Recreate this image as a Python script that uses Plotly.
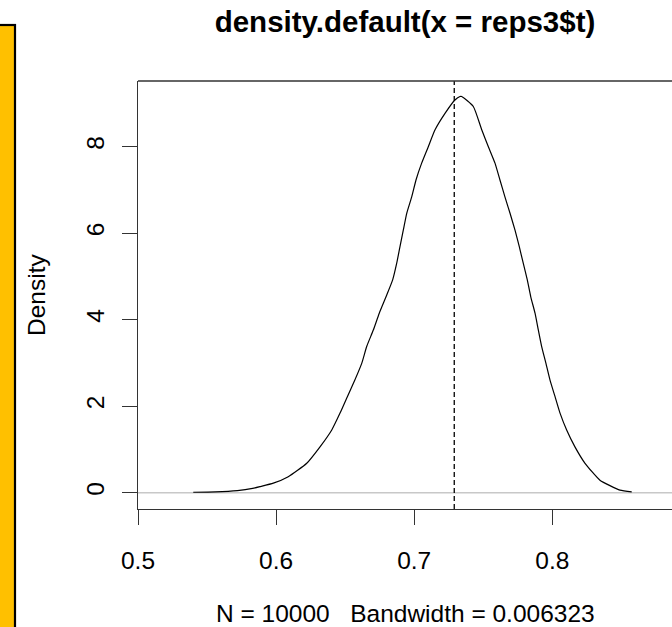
import plotly.graph_objects as go

# Density estimate
dens_x = [0.540, 0.556, 0.572, 0.583, 0.5883, 0.598, 0.6088, 0.6222, 0.6318, 0.6403,
          0.6463, 0.6516, 0.6571, 0.6620, 0.6656, 0.6704, 0.6747, 0.6796, 0.6844, 0.6873,
          0.6897, 0.6921, 0.6946, 0.6982, 0.7013, 0.7054, 0.7102, 0.7151, 0.7223, 0.7295,
          0.7332, 0.7344, 0.7428, 0.7489, 0.7537, 0.7585, 0.7621, 0.7657, 0.7694, 0.7730,
          0.7761, 0.7790, 0.7819, 0.7844, 0.7875, 0.7899, 0.7923, 0.7954, 0.7983, 0.8020,
          0.8056, 0.8104, 0.8164, 0.8237, 0.8345, 0.8490, 0.8575]
dens_y = [0.01, 0.02, 0.05, 0.10, 0.14, 0.22, 0.37, 0.68, 1.06, 1.45,
          1.84, 2.22, 2.61, 2.99, 3.38, 3.76, 4.15, 4.53, 4.92, 5.30,
          5.69, 6.07, 6.46, 6.84, 7.23, 7.62, 8.00, 8.39, 8.77, 9.08,
          9.16, 9.16, 8.93, 8.39, 8.00, 7.62, 7.23, 6.84, 6.46, 6.07,
          5.69, 5.30, 4.92, 4.53, 4.15, 3.76, 3.38, 2.99, 2.61, 2.22,
          1.84, 1.45, 1.06, 0.68, 0.29, 0.06, 0.02]
observed_t = 0.729
x_ticks = [0.5, 0.6, 0.7, 0.8]
y_ticks = [0, 2, 4, 6, 8]
title_text = "density.default(x = reps3$t)"
xlab_text = "N = 10000   Bandwidth = 0.006323"
ylab_text = "Density"

W, H = 672, 627
L, R, T, B = 138, 0, 81, 118
pw, ph = W - L - R, H - T - B
FONT = "Liberation Sans, Arial, sans-serif"

fig = go.Figure()
fig.add_trace(go.Scatter(x=dens_x, y=dens_y, mode="lines",
                         line=dict(color="black", width=1.2, shape="spline", smoothing=0.5),
                         hoverinfo="skip", showlegend=False))

shapes = []
# zero reference line
shapes.append(dict(type="line", xref="paper", yref="y", x0=0, x1=1, y0=0, y1=0,
                   line=dict(color="#c8c8c8", width=1.5), layer="below"))
# observed statistic
shapes.append(dict(type="line", xref="x", yref="paper", x0=observed_t, x1=observed_t, y0=0, y1=1,
                   line=dict(color="black", width=1.3, dash="5px,3px")))
# top border of box
shapes.append(dict(type="line", xref="paper", yref="paper", x0=0, x1=1, y0=1, y1=1,
                   line=dict(color="#333", width=1.3)))


def px2x(p):
    return (p - L) / pw


def py2y(p):
    return (H - B - p) / ph


# orange side panel
shapes.append(dict(type="rect", xref="paper", yref="paper", x0=px2x(-2), x1=px2x(14),
                   y0=py2y(H + 2), y1=py2y(26), fillcolor="#FFC000", line=dict(width=0)))
shapes.append(dict(type="line", xref="paper", yref="paper", x0=px2x(15), x1=px2x(15),
                   y0=py2y(H + 2), y1=py2y(24), line=dict(color="black", width=2.2)))
shapes.append(dict(type="line", xref="paper", yref="paper", x0=px2x(-2), x1=px2x(16),
                   y0=py2y(25), y1=py2y(25), line=dict(color="black", width=2.2)))

annotations = [
    dict(text=xlab_text, xref="paper", yref="paper", x=0.5, y=0, yanchor="middle",
         yshift=-(613 - (H - B)), showarrow=False, font=dict(size=24.5, color="black", family=FONT)),
    dict(text=ylab_text, xref="paper", yref="paper", x=0, y=0.5, xanchor="center",
         xshift=36 - L, textangle=-90, showarrow=False,
         font=dict(size=24.5, color="black", family=FONT)),
]

fig.update_layout(
    width=W, height=H, margin=dict(l=L, r=R, t=T, b=B, autoexpand=False),
    paper_bgcolor="white", plot_bgcolor="white",
    title=dict(text="<b>" + title_text + "</b>", x=0.5, xref="paper", xanchor="center",
               y=1 - 22 / H, yref="container", yanchor="middle",
               font=dict(size=29.5, color="black", family=FONT)),
    shapes=shapes, annotations=annotations, showlegend=False,
    xaxis=dict(range=[0.5, 0.5 + pw / 1381.0], tickvals=x_ticks, ticktext=[str(v) for v in x_ticks],
               ticks="outside", ticklen=15, tickcolor="#333", tickwidth=1.3,
               showline=True, linecolor="#333", linewidth=1.3, showgrid=False, zeroline=False,
               tickfont=dict(size=24.5, color="black", family=FONT), ticklabelstandoff=14),
    yaxis=dict(range=[-0.377, 9.519], tickvals=y_ticks, ticktext=[str(v) for v in y_ticks],
               ticks="outside", ticklen=15, tickcolor="#333", tickwidth=1.3, tickangle=-90,
               showline=True, linecolor="#333", linewidth=1.3, showgrid=False, zeroline=False,
               tickfont=dict(size=24.5, color="black", family=FONT), ticklabelstandoff=8),
)

fig.write_html("out.html")
